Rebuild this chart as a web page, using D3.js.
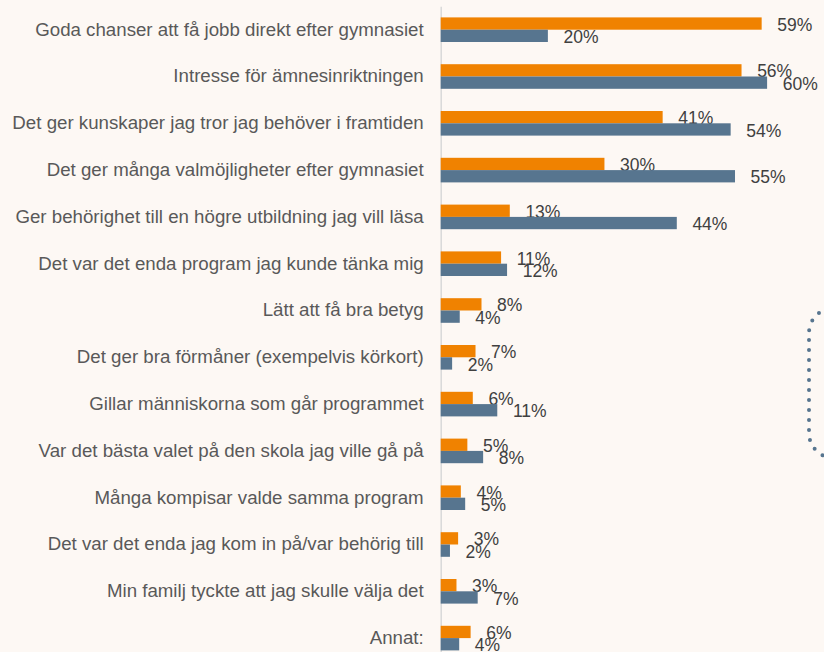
<!DOCTYPE html>
<html>
<head>
<meta charset="utf-8">
<script src="https://cdn.jsdelivr.net/npm/d3@7"></script>
<style>
  body { margin: 0; background: #fdf8f4; }
  svg { display: block; }
</style>
</head>
<body>
<figure id="bar" style="margin:0"></figure>
<script>
// reasons, top to bottom
const categories = [
  "Goda chanser att få jobb direkt efter gymnasiet",
  "Intresse för ämnesinriktningen",
  "Det ger kunskaper jag tror jag behöver i framtiden",
  "Det ger många valmöjligheter efter gymnasiet",
  "Ger behörighet till en högre utbildning jag vill läsa",
  "Det var det enda program jag kunde tänka mig",
  "Lätt att få bra betyg",
  "Det ger bra förmåner (exempelvis körkort)",
  "Gillar människorna som går programmet",
  "Var det bästa valet på den skola jag ville gå på",
  "Många kompisar valde samma program",
  "Det var det enda jag kom in på/var behörig till",
  "Min familj tyckte att jag skulle välja det",
  "Annat:"
];

// bar lengths and printed labels
const orangeValues = [59, 55.3, 40.8, 30.1, 12.7, 11.1, 7.5, 6.4, 5.9, 4.9, 3.7, 3.2, 2.9, 5.5];
const blueValues   = [19.7, 60, 53.3, 54.1, 43.4, 12.2, 3.5, 2.1, 10.4, 7.8, 4.5, 1.7, 6.8, 3.4];
const orangeLabels = [59, 56, 41, 30, 13, 11, 8, 7, 6, 5, 4, 3, 3, 6];
const blueLabels   = [20, 60, 54, 55, 44, 12, 4, 2, 11, 8, 5, 2, 7, 4];

const series = [
  { key: "orange", values: orangeValues, labels: orangeLabels, color: "#f08200" },
  { key: "blue", values: blueValues, labels: blueLabels, color: "#57758f" }
];

const width = 824, height = 652;
const x0 = 440.7;
const step = 46.8;
const yStart = 29.7 - step / 2;

const svg = d3.select("figure#bar")
  .append("svg")
  .attr("width", width)
  .attr("height", height);

svg.append("rect")
  .attr("width", width)
  .attr("height", height)
  .attr("fill", "#fdf8f4");

const x = d3.scaleLinear()
  .domain([0, 60])
  .range([x0, x0 + 5.44 * 60]);

const y = d3.scaleBand()
  .domain(categories)
  .range([yStart, yStart + step * categories.length])
  .padding(0);

const inner = d3.scaleBand()
  .domain(series.map(s => s.key))
  .range([step / 2 - 12.3, step / 2 + 12.3])
  .padding(0);

// category axis
const axis = svg.append("g")
  .attr("transform", "translate(" + x0 + ",0)")
  .call(d3.axisLeft(y).tickSize(0).tickPadding(17));

axis.select(".domain")
  .attr("stroke", "#d9d9d9")
  .attr("stroke-width", 1.5);

axis.selectAll("text")
  .attr("fill", "#595959")
  .style("font-family", "'Liberation Sans', Arial, sans-serif")
  .style("font-size", "18.7px");

// bars and labels
series.forEach(s => {
  const g = svg.append("g");
  const rows = categories.map((c, i) => ({ cat: c, v: s.values[i], label: s.labels[i] }));

  g.selectAll("rect")
    .data(rows)
    .enter()
    .append("rect")
    .attr("x", x(0))
    .attr("y", d => y(d.cat) + inner(s.key))
    .attr("width", d => x(d.v) - x(0))
    .attr("height", inner.bandwidth())
    .attr("fill", s.color);

  g.selectAll("text")
    .data(rows)
    .enter()
    .append("text")
    .attr("x", d => x(d.v) + 15.6)
    .attr("y", d => y(d.cat) + inner(s.key) + inner.bandwidth() / 2 + 1)
    .attr("dy", "0.35em")
    .attr("fill", "#404040")
    .style("font-family", "'Liberation Sans', Arial, sans-serif")
    .style("font-size", "17.5px")
    .text(d => d.label + "%");
});

// dotted callout frame at the right edge
svg.append("rect")
  .attr("x", 809)
  .attr("y", 308)
  .attr("width", 120)
  .attr("height", 150)
  .attr("rx", 25)
  .attr("fill", "none")
  .attr("stroke", "#57758f")
  .attr("stroke-width", 4)
  .attr("stroke-linecap", "round")
  .attr("stroke-dasharray", "0 10");
</script>
</body>
</html>
